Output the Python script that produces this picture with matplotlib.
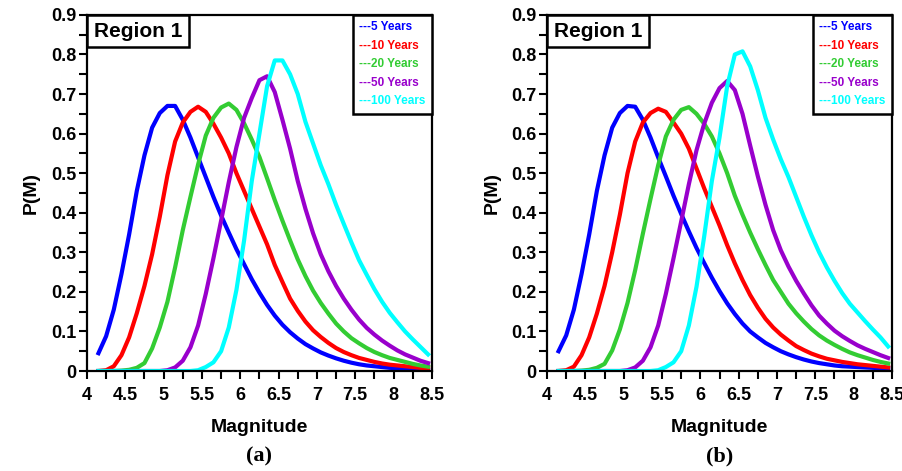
import numpy as np
import matplotlib
matplotlib.use('Agg')
import matplotlib.pyplot as plt
from matplotlib.offsetbox import AnchoredText
from matplotlib.ticker import MultipleLocator

plt.rcParams['font.family'] = ['Liberation Sans', 'DejaVu Sans']

# magnitude grid shared by all curves
magnitude = np.round(np.arange(4.15, 8.46, 0.1), 2)

periods = ['5 Years', '10 Years', '20 Years', '50 Years', '100 Years']
colors = ['#0000ff', '#ff0000', '#33cc33', '#9900cc', '#00ffff']
x_ticks = [4, 4.5, 5, 5.5, 6, 6.5, 7, 7.5, 8, 8.5]
y_ticks = [0, 0.1, 0.2, 0.3, 0.4, 0.5, 0.6, 0.7, 0.8, 0.9]

# panel (a)
a_5yr = [0.045, 0.088, 0.155, 0.245, 0.345, 0.455, 0.545, 0.615, 0.652, 0.670,
         0.670, 0.635, 0.590, 0.540, 0.490, 0.440, 0.393, 0.350, 0.308, 0.270,
         0.232, 0.198, 0.167, 0.140, 0.117, 0.098, 0.082, 0.068, 0.057, 0.047,
         0.039, 0.032, 0.026, 0.021, 0.017, 0.014, 0.012, 0.010, 0.008, 0.007,
         0.006, 0.005, 0.004, 0.003]
a_10yr = [0.000, 0.002, 0.012, 0.040, 0.085, 0.146, 0.215, 0.295, 0.390, 0.495,
          0.580, 0.628, 0.655, 0.668, 0.655, 0.625, 0.590, 0.550, 0.500, 0.455,
          0.410, 0.365, 0.320, 0.268, 0.225, 0.183, 0.152, 0.125, 0.103, 0.086,
          0.071, 0.058, 0.048, 0.040, 0.033, 0.028, 0.023, 0.019, 0.016, 0.014,
          0.012, 0.010, 0.008, 0.007]
a_20yr = [0.000, 0.000, 0.000, 0.001, 0.003, 0.008, 0.020, 0.057, 0.110, 0.175,
          0.262, 0.356, 0.440, 0.522, 0.595, 0.640, 0.666, 0.676, 0.660, 0.626,
          0.585, 0.541, 0.487, 0.432, 0.380, 0.330, 0.282, 0.240, 0.203, 0.172,
          0.145, 0.120, 0.100, 0.083, 0.070, 0.058, 0.048, 0.040, 0.033, 0.028,
          0.023, 0.018, 0.014, 0.011]
a_50yr = [0.000, 0.000, 0.000, 0.000, 0.000, 0.000, 0.000, 0.000, 0.000, 0.002,
          0.009, 0.026, 0.060, 0.115, 0.195, 0.285, 0.380, 0.477, 0.566, 0.640,
          0.690, 0.735, 0.745, 0.705, 0.635, 0.562, 0.480, 0.410, 0.348, 0.295,
          0.252, 0.215, 0.183, 0.155, 0.130, 0.109, 0.092, 0.077, 0.064, 0.052,
          0.042, 0.034, 0.026, 0.020]
a_100yr = [0.000, 0.000, 0.000, 0.000, 0.000, 0.000, 0.000, 0.000, 0.000, 0.000,
           0.000, 0.000, 0.000, 0.002, 0.010, 0.022, 0.050, 0.110, 0.205, 0.330,
           0.480, 0.600, 0.720, 0.785, 0.785, 0.750, 0.700, 0.630, 0.575, 0.520,
           0.472, 0.420, 0.372, 0.325, 0.280, 0.243, 0.207, 0.175, 0.147, 0.123,
           0.100, 0.080, 0.061, 0.042]

# panel (b)
b_5yr = [0.050, 0.090, 0.155, 0.245, 0.345, 0.455, 0.545, 0.615, 0.652, 0.670,
         0.668, 0.635, 0.590, 0.540, 0.492, 0.443, 0.397, 0.353, 0.311, 0.273,
         0.236, 0.202, 0.171, 0.144, 0.120, 0.100, 0.085, 0.071, 0.060, 0.050,
         0.042, 0.035, 0.029, 0.024, 0.020, 0.017, 0.014, 0.012, 0.011, 0.010,
         0.009, 0.008, 0.007, 0.007]
b_10yr = [0.000, 0.002, 0.011, 0.040, 0.085, 0.145, 0.215, 0.300, 0.395, 0.500,
          0.580, 0.628, 0.652, 0.663, 0.655, 0.628, 0.600, 0.562, 0.512, 0.462,
          0.415, 0.368, 0.318, 0.272, 0.230, 0.192, 0.160, 0.132, 0.110, 0.092,
          0.077, 0.063, 0.053, 0.044, 0.037, 0.031, 0.027, 0.023, 0.020, 0.017,
          0.015, 0.013, 0.011, 0.009]
b_20yr = [0.000, 0.000, 0.000, 0.001, 0.003, 0.008, 0.018, 0.052, 0.105, 0.172,
          0.255, 0.347, 0.435, 0.520, 0.593, 0.635, 0.660, 0.667, 0.650, 0.625,
          0.593, 0.550, 0.500, 0.443, 0.395, 0.350, 0.308, 0.268, 0.230, 0.200,
          0.170, 0.146, 0.125, 0.106, 0.090, 0.077, 0.066, 0.056, 0.047, 0.040,
          0.034, 0.028, 0.023, 0.019]
b_50yr = [0.000, 0.000, 0.000, 0.000, 0.000, 0.000, 0.000, 0.000, 0.000, 0.002,
          0.009, 0.026, 0.060, 0.115, 0.195, 0.285, 0.378, 0.472, 0.558, 0.625,
          0.678, 0.715, 0.733, 0.710, 0.650, 0.570, 0.492, 0.420, 0.356, 0.305,
          0.264, 0.228, 0.196, 0.166, 0.140, 0.120, 0.102, 0.088, 0.076, 0.065,
          0.056, 0.048, 0.040, 0.033]
b_100yr = [0.000, 0.000, 0.000, 0.000, 0.000, 0.000, 0.000, 0.000, 0.000, 0.000,
           0.000, 0.000, 0.000, 0.002, 0.010, 0.022, 0.050, 0.115, 0.213, 0.340,
           0.480, 0.590, 0.720, 0.800, 0.808, 0.770, 0.710, 0.640, 0.585, 0.535,
           0.490, 0.440, 0.390, 0.343, 0.300, 0.262, 0.228, 0.197, 0.170, 0.148,
           0.126, 0.105, 0.085, 0.062]

panel_a = [a_5yr, a_10yr, a_20yr, a_50yr, a_100yr]
panel_b = [b_5yr, b_10yr, b_20yr, b_50yr, b_100yr]


def draw_panel(ax, series):
    lines = []
    for vals, c, lab in zip(series, colors, periods):
        ln, = ax.plot(magnitude, vals, color=c, lw=3, label='---' + lab)
        lines.append(ln)

    ax.set_xlim(4, 8.5)
    ax.set_ylim(0, 0.9)
    ax.set_xticks(x_ticks, [f'{v:g}' for v in x_ticks])
    ax.set_yticks(y_ticks, [f'{v:g}' for v in y_ticks])
    ax.xaxis.set_minor_locator(MultipleLocator(0.25))
    ax.yaxis.set_minor_locator(MultipleLocator(0.05))
    ax.tick_params(which='both', direction='out', length=5.5, width=1.5,
                   labelsize=13)
    ax.tick_params(axis='x', pad=6)
    ax.tick_params(axis='y', pad=2)
    for lbl in ax.get_xticklabels() + ax.get_yticklabels():
        lbl.set_fontweight('bold')
    for sp in ax.spines.values():
        sp.set_linewidth(1.6)

    ax.set_xlabel('Magnitude', fontsize=14, fontweight='bold', labelpad=11)
    ax.set_ylabel('P(M)', fontsize=14, fontweight='bold', labelpad=8)

    at = AnchoredText('Region 1', loc='upper left', pad=0.32, borderpad=0,
                      prop=dict(size=15, weight='bold'))
    at.patch.set_linewidth(1.8)
    at.patch.set_boxstyle('square,pad=0')
    ax.add_artist(at)

    leg = ax.legend(handles=lines, loc='upper right', borderaxespad=0,
                    handlelength=0, handletextpad=0, labelcolor='linecolor',
                    fancybox=False, framealpha=1, edgecolor='black',
                    borderpad=0.55, labelspacing=0.55,
                    prop=dict(weight='bold', size=8.5))
    leg.get_frame().set_linewidth(1.8)
    for h in leg.legend_handles:
        h.set_visible(False)


fig = plt.figure(figsize=(9.03, 4.71), dpi=100)
ax1 = fig.add_axes([0.0963, 0.2123, 0.382, 0.756])
ax2 = fig.add_axes([0.6058, 0.2123, 0.382, 0.756])

draw_panel(ax1, panel_a)
draw_panel(ax2, panel_b)

fig.text(0.2873, 0.03, '(a)', ha='center', va='center', fontsize=16,
         fontweight='bold', family='Liberation Serif')
fig.text(0.7968, 0.03, '(b)', ha='center', va='center', fontsize=16,
         fontweight='bold', family='Liberation Serif')

fig.savefig('out.png', dpi=100)
